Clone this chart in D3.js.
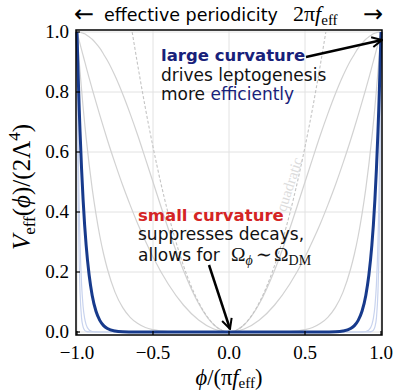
<!DOCTYPE html>
<html lang="en">
<head>
  <meta charset="UTF-8">
  <title>effective periodicity</title>
  <style>
    body { margin: 0; background: #fff; }
    .serif { font-family: "Liberation Serif", "DejaVu Serif", serif; }
    .sans { font-family: "DejaVu Sans", "Noto Sans", sans-serif; }
  </style>
</head>
<body>
  <svg id="svg" width="396" height="392"></svg>

  <script src="https://d3js.org/d3.v7.min.js"></script>
  <script>
    // right half of each curve (phi >= 0), mirrored for phi < 0
    const xs = [0, 0.1, 0.2, 0.3, 0.4, 0.5, 0.55, 0.6, 0.65, 0.7, 0.75, 0.8, 0.825, 0.85, 0.875, 0.9, 0.92, 0.94, 0.95, 0.96, 0.97, 0.98, 0.985, 0.99, 0.995, 1.0]
    const grayCos = [0, .024, .095, .206, .345, .5, .578, .655, .727, .794, .854, .905, .926, .946, .962, .976, .984, .991, .994, .996, .998, .999, .9995, 1, 1, 1]
    const grayMid = [0, .01, .04, .09, .16, .25, .303, .36, .423, .49, .563, .64, .681, .723, .766, .81, .846, .884, .903, .922, .941, .96, .97, .98, .99, 1]
    const grayNarrow = [0, 0, 0, .0002, .0016, .0078, .015, .028, .049, .082, .133, .21, .26, .32, .393, .478, .558, .648, .698, .751, .808, .868, .9, .932, .965, 1]
    const blueMain = [0, 0, 0, 0, 0, 0, 0, 0, .0002, .0008, .0032, .0115, .0213, .0388, .069, .122, .189, .29, .358, .442, .544, .668, .739, .818, .905, 1]
    const lightBlue1 = [0, 0, 0, 0, 0, 0, 0, 0, 0, 0, 0, 0, 0, 0, .0003, .0018, .0067, .0244, .046, .086, .16, .298, .404, .547, .74, 1]
    const lightBlue2 = [0, 0, 0, 0, 0, 0, 0, 0, 0, 0, 0, 0, 0, 0, 0, 0, .0002, .002, .0059, .017, .047, .133, .221, .366, .606, 1]
    // quadratic approximation of the cosine (dashed)
    const xsQuad = [0, 0.1, 0.2, 0.3, 0.4, 0.5, 0.55, 0.6, 0.637]
    const quad = [0, .025, .099, .222, .395, .617, .746, .888, 1]

    const xTicks = [-1, -0.5, 0, 0.5, 1]
    const yTicks = [0, 0.2, 0.4, 0.6, 0.8, 1]

    const svg = d3.select('#svg')
    const x = d3.scaleLinear().domain([-1, 1]).range([77, 381])
    const y = d3.scaleLinear().domain([0, 1]).range([332, 32])

    function mirror(xv, yv) {
      const pts = xv.map((d, i) => [d, yv[i]])
      const left = pts.slice(1).map(p => [-p[0], p[1]]).reverse()
      return left.concat(pts)
    }

    // grid
    svg.append('g').selectAll('line').data(xTicks).enter().append('line')
      .attr('x1', d => x(d)).attr('x2', d => x(d)).attr('y1', 30).attr('y2', 335)
      .attr('stroke', '#e2e2e2').attr('stroke-width', 1)
    svg.append('g').selectAll('line').data(yTicks).enter().append('line')
      .attr('x1', 76).attr('x2', 382).attr('y1', d => y(d)).attr('y2', d => y(d))
      .attr('stroke', '#e2e2e2').attr('stroke-width', 1)

    svg.append('text').attr('class', 'serif')
      .attr('transform', 'translate(294,186) rotate(-72)')
      .attr('text-anchor', 'middle')
      .attr('font-size', 15).attr('fill', '#dcdcdc').text('quadratic')

    const line = d3.line().x(d => x(d[0])).y(d => y(d[1])).curve(d3.curveMonotoneX)
    const curves = [
      { v: grayCos, c: '#d2d2d2', w: 1.2 },
      { v: grayMid, c: '#d2d2d2', w: 1.2 },
      { v: grayNarrow, c: '#d2d2d2', w: 1.2 },
      { v: lightBlue2, c: '#c8d3ee', w: 1.2 },
      { v: lightBlue1, c: '#c8d3ee', w: 1.2 },
    ]
    const plot = svg.append('g')
    curves.forEach(k => {
      plot.append('path').attr('d', line(mirror(xs, k.v)))
        .attr('fill', 'none').attr('stroke', k.c).attr('stroke-width', k.w)
    })
    plot.append('path').attr('d', line(mirror(xsQuad, quad)))
      .attr('fill', 'none').attr('stroke', '#c4c4c4').attr('stroke-width', 1.1)
      .attr('stroke-dasharray', '3,2')
    plot.append('path').attr('d', line(mirror(xs, blueMain)))
      .attr('fill', 'none').attr('stroke', '#173a8c').attr('stroke-width', 3)

    // frame + ticks
    svg.append('rect').attr('x', 76).attr('y', 30).attr('width', 306).attr('height', 305)
      .attr('fill', 'none').attr('stroke', '#000').attr('stroke-width', 1.5)
    svg.append('g').selectAll('line').data(yTicks).enter().append('line')
      .attr('x1', 76).attr('x2', 80).attr('y1', d => y(d)).attr('y2', d => y(d))
      .attr('stroke', '#000').attr('stroke-width', 1.2)
    svg.append('g').selectAll('line').data(xTicks).enter().append('line')
      .attr('x1', d => x(d)).attr('x2', d => x(d)).attr('y1', 335).attr('y2', 331)
      .attr('stroke', '#000').attr('stroke-width', 1.2)

    svg.append('g').selectAll('text').data(yTicks).enter().append('text')
      .attr('class', 'serif').attr('x', 69).attr('y', d => y(d) + 6)
      .attr('text-anchor', 'end').attr('font-size', 19).text(d => d.toFixed(1))
    svg.append('g').selectAll('text').data(xTicks).enter().append('text')
      .attr('class', 'serif').attr('x', d => x(d)).attr('y', 359)
      .attr('text-anchor', 'middle').attr('font-size', 19)
      .text(d => (d < 0 ? '\u2212' : '') + Math.abs(d).toFixed(1))

    // axis labels
    const xl = svg.append('text').attr('class', 'serif').attr('x', 229).attr('y', 385)
      .attr('text-anchor', 'middle').attr('font-size', 22.5)
    xl.append('tspan').attr('font-style', 'italic').text('\u03d5')
    xl.append('tspan').text('/(\u03c0')
    xl.append('tspan').attr('font-style', 'italic').text('f')
    xl.append('tspan').attr('font-size', 15).attr('dy', 3).text('eff')
    xl.append('tspan').attr('dy', -3).text(')')

    const yl = svg.append('text').attr('class', 'serif')
      .attr('transform', 'translate(30,187) rotate(-90)')
      .attr('text-anchor', 'middle').attr('font-size', 25)
    yl.append('tspan').attr('font-style', 'italic').text('V')
    yl.append('tspan').attr('font-size', 17).attr('dy', 5).text('eff')
    yl.append('tspan').attr('dy', -5).text('(')
    yl.append('tspan').attr('font-style', 'italic').text('\u03d5')
    yl.append('tspan').text(')/(2\u039b')
    yl.append('tspan').attr('font-size', 17).attr('dy', -10).text('4')
    yl.append('tspan').attr('dy', 10).text(')')

    // title
    svg.append('text').attr('class', 'sans').attr('x', 74).attr('y', 22)
      .attr('font-size', 24).text('\u2190')
    svg.append('text').attr('class', 'sans').attr('x', 104).attr('y', 21)
      .attr('font-size', 17.5).text('effective periodicity')
    const tm = svg.append('text').attr('class', 'serif').attr('x', 293).attr('y', 21)
      .attr('font-size', 22)
    tm.append('tspan').text('2\u03c0')
    tm.append('tspan').attr('font-style', 'italic').text('f')
    tm.append('tspan').attr('font-size', 15).attr('dy', 4).text('eff')
    svg.append('text').attr('class', 'sans').attr('x', 383).attr('y', 22)
      .attr('text-anchor', 'end').attr('font-size', 24).text('\u2192')

    // annotations
    svg.append('defs').append('marker').attr('id', 'ah').attr('viewBox', '0 0 10 10')
      .attr('refX', 9).attr('refY', 5).attr('markerWidth', 5).attr('markerHeight', 5)
      .attr('orient', 'auto').append('path').attr('d', 'M1,1 L9,5 L1,9')
      .attr('fill', 'none').attr('stroke', '#000').attr('stroke-width', 1.6)

    const navy = '#18217a'
    const a1 = svg.append('g').attr('class', 'sans')
    a1.append('text').attr('x', 161).attr('y', 61).attr('fill', navy).attr('font-size', 16.5)
      .attr('font-weight', 'bold').text('large curvature')
    a1.append('text').attr('x', 161).attr('y', 81).attr('fill', '#111').attr('font-size', 17)
      .text('drives leptogenesis')
    const m = a1.append('text').attr('x', 161).attr('y', 100).attr('fill', '#111').attr('font-size', 17)
    m.append('tspan').text('more ')
    m.append('tspan').attr('fill', navy).text('efficiently')
    svg.append('line').attr('x1', 306).attr('y1', 57).attr('x2', 382).attr('y2', 40)
      .attr('stroke', '#000').attr('stroke-width', 2.5).attr('marker-end', 'url(#ah)')

    const a2 = svg.append('g').attr('class', 'sans')
    a2.append('text').attr('x', 138).attr('y', 221).attr('fill', '#d42424').attr('font-size', 16.5)
      .attr('font-weight', 'bold').text('small curvature')
    a2.append('text').attr('x', 138).attr('y', 240).attr('fill', '#111').attr('font-size', 17)
      .text('suppresses decays,')
    const al = a2.append('text').attr('x', 138).attr('y', 261).attr('fill', '#111').attr('font-size', 17)
    al.append('tspan').text('allows for')
    al.append('tspan').attr('class', 'serif').attr('x', 231).attr('font-size', 19.5).text('\u03a9')
    al.append('tspan').attr('class', 'serif').attr('font-style', 'italic').attr('font-size', 14).attr('dy', 4).text('\u03d5')
    al.append('tspan').attr('class', 'serif').attr('font-size', 19.5).attr('dy', -4).attr('dx', 3).text('\u223c')
    al.append('tspan').attr('class', 'serif').attr('font-size', 19.5).attr('dx', 2).text('\u03a9')
    al.append('tspan').attr('class', 'serif').attr('font-size', 14).attr('dy', 4).text('DM')
    svg.append('line').attr('x1', 209).attr('y1', 265).attr('x2', 230).attr('y2', 329)
      .attr('stroke', '#000').attr('stroke-width', 2.5).attr('marker-end', 'url(#ah)')
  </script>
</body>
</html>
